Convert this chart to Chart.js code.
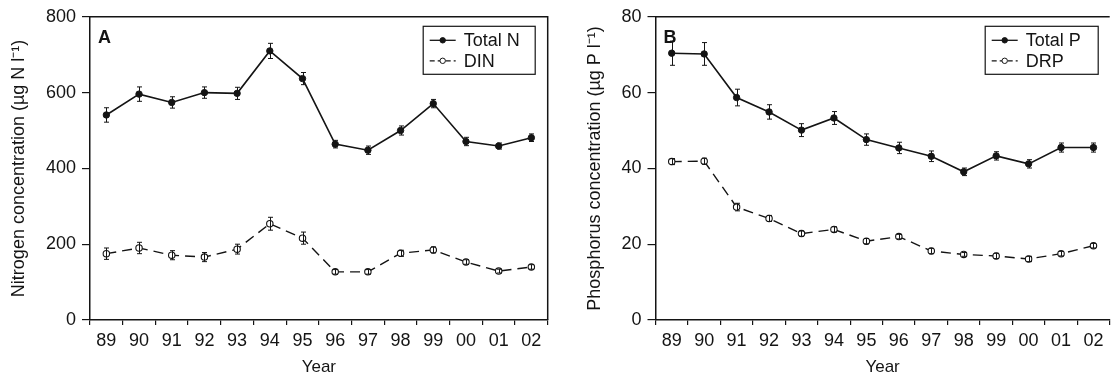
<!DOCTYPE html>
<html>
<head>
<meta charset="utf-8">
<script src="https://cdn.jsdelivr.net/npm/chart.js@4"></script>
<style>
  html, body { margin: 0; padding: 0; background: #ffffff; }
  #wrap { position: relative; width: 1114px; height: 376px; overflow: hidden; }
  #cA { position: absolute; left: 0; top: 0; }
  #cB { position: absolute; left: 557px; top: 0; }
</style>
</head>
<body>
<div id="wrap">
  <canvas id="cA" width="557" height="376"></canvas>
  <canvas id="cB" width="557" height="376"></canvas>
</div>
<script>
// ---- data ----
const years = ['89','90','91','92','93','94','95','96','97','98','99','00','01','02'];

const nitrogenTicks = [0, 200, 400, 600, 800];
const totalN    = [541, 596, 574, 600, 598, 710, 637, 464, 448, 500, 571, 471, 459, 481];
const totalNErr = [19, 19, 15, 15, 16, 20, 16, 10, 11, 12, 11, 11, 8, 10];
const din       = [175, 190, 171, 166, 187, 254, 216, 127, 127, 176, 185, 153, 129, 140];
const dinErr    = [15, 15, 12, 12, 13, 17, 16, 6, 6, 8, 8, 6, 5, 6];

const phosphorusTicks = [0, 20, 40, 60, 80];
const totalP    = [70.4, 70.2, 58.7, 54.9, 50.1, 53.3, 47.6, 45.4, 43.2, 39.1, 43.3, 41.2, 45.5, 45.5];
const totalPErr = [3.2, 3.0, 2.2, 1.9, 1.7, 1.7, 1.5, 1.5, 1.4, 1.0, 1.1, 1.1, 1.2, 1.2];
const drp       = [41.8, 41.9, 29.8, 26.8, 22.8, 23.9, 20.8, 22.0, 18.2, 17.3, 16.9, 16.1, 17.5, 19.6];
const drpErr    = [0.8, 0.8, 1.0, 0.8, 0.7, 0.7, 0.7, 0.6, 0.7, 0.5, 0.7, 0.7, 0.6, 0.6];

const INK = '#141414';
const FONT = "'Liberation Sans', Arial, Helvetica, sans-serif";

// ---- plugins ----
const errorBars = {
  id: 'errorBars',
  afterDatasetsDraw(chart) {
    const ctx = chart.ctx, ys = chart.scales.y;
    ctx.save();
    ctx.strokeStyle = INK;
    ctx.lineWidth = 1;
    chart.data.datasets.forEach((ds, i) => {
      const meta = chart.getDatasetMeta(i);
      meta.data.forEach((pt, j) => {
        const v = ds.data[j], e = ds.errors[j];
        const x = Math.round(pt.x) + 0.5;
        const y1 = ys.getPixelForValue(v + e), y2 = ys.getPixelForValue(v - e);
        ctx.beginPath();
        ctx.moveTo(x, y1); ctx.lineTo(x, y2);
        ctx.moveTo(x - 2.5, y1); ctx.lineTo(x + 2.5, y1);
        ctx.moveTo(x - 2.5, y2); ctx.lineTo(x + 2.5, y2);
        ctx.stroke();
      });
    });
    ctx.restore();
  }
};

const frame = {
  id: 'frame',
  afterDraw(chart, args, opts) {
    const {ctx, chartArea: a} = chart;
    ctx.save();
    ctx.strokeStyle = INK;
    ctx.lineWidth = 1.5;
    ctx.beginPath();
    ctx.moveTo(a.left, a.top); ctx.lineTo(a.right, a.top);
    if (opts.right) { ctx.lineTo(a.right, a.bottom); }
    ctx.stroke();
    // panel letter
    ctx.fillStyle = INK;
    ctx.font = "bold 18px " + FONT;
    ctx.textBaseline = 'alphabetic';
    ctx.textAlign = 'left';
    ctx.fillText(opts.letter, a.left + 8, a.top + 26.5);
    ctx.restore();
  }
};

const boxLegend = {
  id: 'boxLegend',
  afterDraw(chart, args, opts) {
    const {ctx, chartArea: a} = chart;
    const w = opts.width, h = 48;
    const x0 = a.right - opts.gap - w, y0 = a.top + 9;
    ctx.save();
    ctx.strokeStyle = INK;
    ctx.lineWidth = 1.2;
    ctx.strokeRect(x0 + 0.5, y0 + 0.5, w, h);
    chart.data.datasets.forEach((ds, i) => {
      const cy = y0 + 14.5 + i * 20.5;
      ctx.strokeStyle = INK;
      ctx.lineWidth = 1.3;
      ctx.setLineDash(ds.borderDash && ds.borderDash.length ? [5, 3] : []);
      ctx.beginPath();
      ctx.moveTo(x0 + 7, cy); ctx.lineTo(x0 + 33, cy);
      ctx.stroke();
      ctx.setLineDash([]);
      ctx.beginPath();
      ctx.arc(x0 + 20, cy, ds.pointRadius * 0.85, 0, Math.PI * 2);
      ctx.fillStyle = ds.pointBackgroundColor;
      ctx.fill();
      ctx.lineWidth = 1;
      ctx.stroke();
      ctx.fillStyle = INK;
      ctx.font = "18px " + FONT;
      ctx.textBaseline = 'middle';
      ctx.textAlign = 'left';
      ctx.fillText(ds.label, x0 + 41, cy + 1);
    });
    ctx.restore();
  }
};

function makeChart(canvasId, cfg) {
  const solid = {
    label: cfg.labels[0], data: cfg.series[0], errors: cfg.errors[0],
    borderColor: INK, borderWidth: 1.6, pointRadius: 3.2, pointHoverRadius: 3.2,
    pointBackgroundColor: INK, pointBorderColor: INK, pointBorderWidth: 1,
    tension: 0, fill: false
  };
  const dashed = {
    label: cfg.labels[1], data: cfg.series[1], errors: cfg.errors[1],
    borderColor: INK, borderWidth: 1.4, borderDash: [10, 6], pointRadius: 3.2, pointHoverRadius: 3.2,
    pointBackgroundColor: '#ffffff', pointBorderColor: INK, pointBorderWidth: 1.1,
    tension: 0, fill: false
  };
  return new Chart(document.getElementById(canvasId), {
    type: 'line',
    data: { labels: years, datasets: [solid, dashed] },
    plugins: [errorBars, frame, boxLegend],
    options: {
      responsive: false,
      animation: false,
      devicePixelRatio: 1,
      layout: { padding: { top: 16, right: cfg.padRight, left: 0, bottom: 0 } },
      plugins: {
        legend: { display: false },
        tooltip: { enabled: false },
        frame: { right: cfg.rightBorder, letter: cfg.letter },
        boxLegend: { width: cfg.legendWidth, gap: cfg.legendGap }
      },
      scales: {
        x: {
          type: 'category',
          offset: true,
          afterFit(s) { s.height = 56; },
          grid: { display: true, offset: true, drawOnChartArea: false, drawTicks: true, tickLength: 5, color: INK, lineWidth: 1.2 },
          border: { display: true, color: INK, width: 1.5 },
          ticks: { color: INK, font: { family: FONT, size: 18 }, padding: 5, maxRotation: 0, autoSkip: false },
          title: { display: true, text: 'Year', color: INK, font: { family: FONT, size: 17, lineHeight: 1 }, padding: { top: 0, bottom: 0 } }
        },
        y: {
          min: cfg.ticks[0], max: cfg.ticks[cfg.ticks.length - 1],
          afterFit(s) { s.width = cfg.yWidth; },
          afterBuildTicks(s) { s.ticks = cfg.ticks.map(v => ({ value: v })); },
          grid: { display: true, drawOnChartArea: false, drawTicks: true, tickLength: 8, color: INK, lineWidth: 1.2 },
          border: { display: true, color: INK, width: 1.5 },
          ticks: { color: INK, font: { family: FONT, size: 18 }, padding: 6 },
          title: { display: true, text: cfg.yTitle, color: INK, font: { family: FONT, size: 18, lineHeight: 1.2 }, padding: { top: cfg.yTitlePad, bottom: 0 } }
        }
      }
    }
  });
}

makeChart('cA', {
  labels: ['Total N', 'DIN'],
  series: [totalN, din], errors: [totalNErr, dinErr], ticks: nitrogenTicks,
  yTitle: 'Nitrogen concentration (\u00b5g N l\u207b\u00b9)',
  yWidth: 90, padRight: 9.3, yTitlePad: 8.2, rightBorder: true, letter: 'A',
  legendWidth: 112, legendGap: 13
});

makeChart('cB', {
  labels: ['Total P', 'DRP'],
  series: [totalP, drp], errors: [totalPErr, drpErr], ticks: phosphorusTicks,
  yTitle: 'Phosphorus concentration (\u00b5g P l\u207b\u00b9)',
  yWidth: 98.5, padRight: 0.7, yTitlePad: 27.2, rightBorder: false, letter: 'B',
  legendWidth: 113, legendGap: 12
});
</script>
</body>
</html>
